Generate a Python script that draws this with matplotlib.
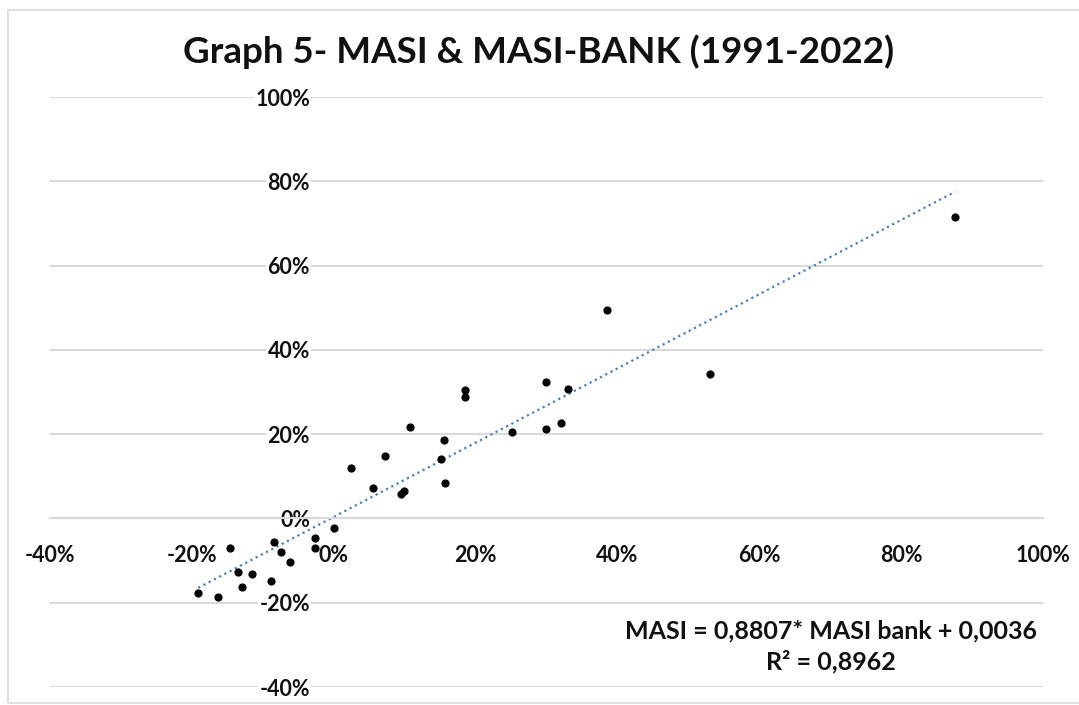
import matplotlib.pyplot as plt
from matplotlib.patches import Rectangle
from matplotlib.ticker import FuncFormatter
import numpy as np

# MASI bank yearly return (x) vs MASI yearly return (y), in %
masi_bank = [2.5, 5.5, 7.2, 9.5, 9.9, 10.8, 15.5, 15.1, 15.7, 18.5, 18.5,
             25.1, 29.9, 29.9, 32.1, 33.0, 38.6, 53.0, 87.6,
             0.1, -2.7, -2.7, -8.4, -7.5, -6.1, -14.6, -13.5, -11.5, -8.9,
             -12.9, -19.1, -16.3]
masi = [11.9, 7.3, 14.8, 5.8, 6.6, 21.7, 18.6, 14.2, 8.3, 30.5, 28.9,
        20.5, 32.4, 21.3, 22.6, 30.8, 49.5, 34.3, 71.5,
        -2.3, -4.7, -7.0, -5.5, -8.0, -10.4, -7.0, -12.6, -13.2, -14.9,
        -16.3, -17.8, -18.6]
slope = 0.8807
intercept = 0.0036
r2 = 0.8962
ticks = [-40, -20, 0, 20, 40, 60, 80, 100]

W, H = 1079, 705
fig = plt.figure(figsize=(W / 100, H / 100), dpi=100)
fig.patches.append(Rectangle((8 / W, 2 / H), 1.2, (H - 12) / H, transform=fig.transFigure,
                             fill=False, edgecolor='#d9d9d9', lw=1.2))

ax = fig.add_axes([50 / W, (H - 687) / H, (1043 - 50) / W, (687 - 97) / H])
ax.set_xlim(-40, 100)
ax.set_ylim(-40, 100)

fnt = 'Lato'
pct = FuncFormatter(lambda v, p: '%d%%' % v)
ax.set_xticks(ticks)
ax.set_yticks(ticks)
ax.xaxis.set_major_formatter(pct)
ax.yaxis.set_major_formatter(pct)

for s in ['top', 'right']:
    ax.spines[s].set_visible(False)
ax.spines['left'].set_position(('data', 0))
ax.spines['left'].set_visible(False)
ax.spines['bottom'].set_position(('data', 0))
ax.spines['bottom'].set_color('#d9d9d9')
ax.spines['bottom'].set_linewidth(1.5)

ax.tick_params(axis='x', length=0, pad=19, labelsize=15.5)
ax.tick_params(axis='y', length=0, pad=17, labelsize=15.5)
for lb in ax.get_xticklabels() + ax.get_yticklabels():
    lb.set_fontweight('bold')
    lb.set_fontfamily(fnt)
    lb.set_color('#111111')
for lb in ax.get_yticklabels():
    lb.set_bbox(dict(facecolor='white', edgecolor='none', pad=1))

ax.grid(axis='y', color='#d9d9d9', lw=1.5)
ax.set_axisbelow(True)

ax.scatter(masi_bank, masi, s=24, color='black', zorder=3)

xs = np.array([min(masi_bank), max(masi_bank)])
ax.plot(xs, slope * xs + intercept * 100, linestyle=':', color='#4a7ebb', lw=1.6, zorder=2)

fig.text(0.4995, 1 - 52 / H, 'Graph 5- MASI & MASI-BANK (1991-2022)', ha='center', va='center',
         fontsize=26.5, fontweight='bold', family=fnt, color='#111111')
fig.text(831 / W, 1 - 631 / H, 'MASI = 0,8807* MASI bank + 0,0036', ha='center', va='center',
         fontsize=18, fontweight='bold', family=fnt, color='#111111')
fig.text(831 / W, 1 - 662 / H, 'R² = 0,8962', ha='center', va='center',
         fontsize=18, fontweight='bold', family=fnt, color='#111111')

fig.savefig('out.png', dpi=100)
